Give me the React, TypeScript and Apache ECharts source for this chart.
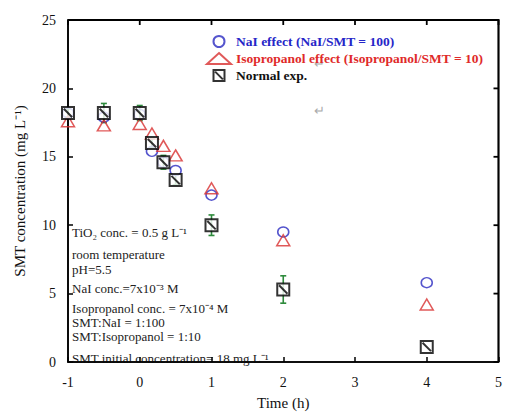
import React, { useEffect, useRef } from "react";
import * as echarts from "echarts";

const timeH = [-1, -0.5, 0, 0.17, 0.33, 0.5, 1, 2, 4];
const naiEffect = [18.2, 17.9, 18.1, 15.4, 14.6, 14.0, 12.2, 9.5, 5.8];
const isoEffect = [17.6, 17.3, 17.4, 16.7, 15.8, 15.1, 12.7, 8.9, 4.2];
const normalExp = [18.2, 18.2, 18.2, 16.0, 14.6, 13.3, 10.0, 5.3, 1.1];
const normalErr = [0.3, 0.7, 0.55, 0.3, 0.5, 0.35, 0.75, 1.0, 0];

const xTicks = [-1, 0, 1, 2, 3, 4, 5];
const yTicks = [0, 5, 10, 15, 20, 25];

const seriesNames = [
  "NaI effect (NaI/SMT = 100)",
  "Isopropanol effect (Isopropanol/SMT = 10)",
  "Normal exp.",
];

const noteLines = [
  "TiO₂ conc. = 0.5 g L⁻¹",
  "room temperature",
  "pH=5.5",
  "NaI conc.=7x10⁻³ M",
  "Isopropanol conc. = 7x10⁻⁴ M",
  "SMT:NaI = 1:100",
  "SMT:Isopropanol = 1:10",
  "SMT initial concentration= 18 mg L⁻¹",
];
const noteTops = [226, 248, 263, 282, 302, 316, 330, 352];

const FONT = "'Liberation Serif', 'Times New Roman', serif";

export default function App() {
  const ref = useRef<HTMLDivElement>(null);
  useEffect(() => {
    if (!ref.current) return;
    const chart = echarts.init(ref.current, null, { renderer: "svg" });
    const pts = (ys: number[]) => timeH.map((t, i) => [t, ys[i]]);
    const errData = timeH
      .map((t, i) => [t, normalExp[i], normalErr[i]])
      .filter((d) => d[2] > 0);
    const xMin = xTicks[0];
    const xMax = xTicks[xTicks.length - 1];
    const yMin = yTicks[0];
    const yMax = yTicks[yTicks.length - 1];
    chart.setOption({
      animation: false,
      backgroundColor: "#fff",
      grid: {
        left: 68,
        right: 5,
        top: 20,
        bottom: 47,
        show: true,
        borderColor: "#000",
        borderWidth: 1.6,
        backgroundColor: "transparent",
      },
      legend: {
        orient: "vertical",
        left: 201,
        top: 29,
        itemWidth: 24,
        itemHeight: 11,
        itemGap: 2,
        textStyle: { fontFamily: FONT, fontWeight: "bold", fontSize: 13.5, lineHeight: 15 },
        data: [
          { name: seriesNames[0], textStyle: { color: "#2626c8" } },
          { name: seriesNames[1], textStyle: { color: "#e02a2a" } },
          { name: seriesNames[2], textStyle: { color: "#111" } },
        ],
      },
      xAxis: {
        type: "value",
        min: xMin,
        max: xMax,
        interval: 1,
        axisLine: { show: true, onZero: false, lineStyle: { color: "#000", width: 1.5 } },
        axisTick: { show: true, inside: true, length: 5, lineStyle: { color: "#000", width: 1.5 } },
        splitLine: { show: false },
        name: "Time (h)",
        nameLocation: "middle",
        nameGap: 33,
        nameTextStyle: { fontFamily: FONT, fontSize: 15, color: "#111" },
        axisLabel: { margin: 13, fontFamily: FONT, fontSize: 14, color: "#111" },
      },
      yAxis: {
        type: "value",
        min: yMin,
        max: yMax,
        interval: 5,
        axisLine: { show: true, onZero: false, lineStyle: { color: "#000", width: 1.5 } },
        axisTick: { show: true, inside: true, length: 5, lineStyle: { color: "#000", width: 1.5 } },
        splitLine: { show: false },
        name: "SMT concentration (mg L⁻¹)",
        nameLocation: "middle",
        nameGap: 41,
        nameTextStyle: { fontFamily: FONT, fontSize: 15, color: "#111" },
        axisLabel: { margin: 12, fontFamily: FONT, fontSize: 14, color: "#111" },
      },
      series: [
        {
          type: "custom",
          name: "frame",
          data: [[0, 0]],
          silent: true,
          clip: false,
          z: 10,
          renderItem: (params: any, api: any) => {
            const st = { stroke: "#000", lineWidth: 1.8, fill: null };
            const tl = api.coord([xMin, yMax]);
            const tr = api.coord([xMax, yMax]);
            const br = api.coord([xMax, yMin]);
            const children: any[] = [
              { type: "polyline", shape: { points: [tl, tr, br] }, style: st },
            ];
            xTicks.forEach((t) => {
              const p = api.coord([t, yMax]);
              children.push({ type: "line", shape: { x1: p[0], y1: p[1], x2: p[0], y2: p[1] + 5 }, style: st });
            });
            yTicks.forEach((v) => {
              const p = api.coord([xMax, v]);
              children.push({ type: "line", shape: { x1: p[0], y1: p[1], x2: p[0] - 5, y2: p[1] }, style: st });
            });
            return { type: "group", children };
          },
        },
        {
          type: "custom",
          name: "err",
          data: errData,
          renderItem: (params: any, api: any) => {
            const x = api.value(0);
            const y = api.value(1);
            const e = api.value(2);
            const top = api.coord([x, y + e]);
            const bot = api.coord([x, y - e]);
            const st = { stroke: "#2e8b3c", lineWidth: 1.6 };
            return {
              type: "group",
              children: [
                { type: "line", shape: { x1: top[0], y1: top[1], x2: bot[0], y2: bot[1] }, style: st },
                { type: "line", shape: { x1: top[0] - 3, y1: top[1], x2: top[0] + 3, y2: top[1] }, style: st },
                { type: "line", shape: { x1: bot[0] - 3, y1: bot[1], x2: bot[0] + 3, y2: bot[1] }, style: st },
              ],
            };
          },
        },
        {
          type: "scatter",
          name: seriesNames[0],
          data: pts(naiEffect),
          symbol: "circle",
          symbolSize: [11, 10],
          itemStyle: { color: "rgba(255,255,255,0)", borderColor: "#2a2ac0", borderWidth: 1.5 },
        },
        {
          type: "scatter",
          name: seriesNames[1],
          data: pts(isoEffect),
          symbol: "triangle",
          symbolSize: [13, 11],
          itemStyle: { color: "rgba(255,255,255,0)", borderColor: "#d83030", borderWidth: 1.5 },
        },
        {
          type: "scatter",
          name: seriesNames[2],
          data: pts(normalExp),
          symbol: "path://M0,0H10V10H0Z M1.5,1.5L8.5,8.5",
          symbolSize: [12, 12],
          itemStyle: { color: "#fff", borderColor: "#000", borderWidth: 2 },
        },
      ],
      graphic: [
        ...noteLines.map((s, i) => ({
          type: "text",
          left: 72,
          top: noteTops[i],
          style: { text: s, font: `13px ${FONT}`, fill: "#222" },
        })),
        { type: "text", left: 314, top: 57, style: { text: "↵", font: `13px ${FONT}`, fill: "#aaa" } },
        { type: "text", left: 314, top: 104, style: { text: "↵", font: `13px ${FONT}`, fill: "#aaa" } },
      ],
    });
    return () => chart.dispose();
  }, []);
  return <div ref={ref} style={{ width: 505, height: 415, position: "absolute", left: 0, top: 0 }} />;
}
